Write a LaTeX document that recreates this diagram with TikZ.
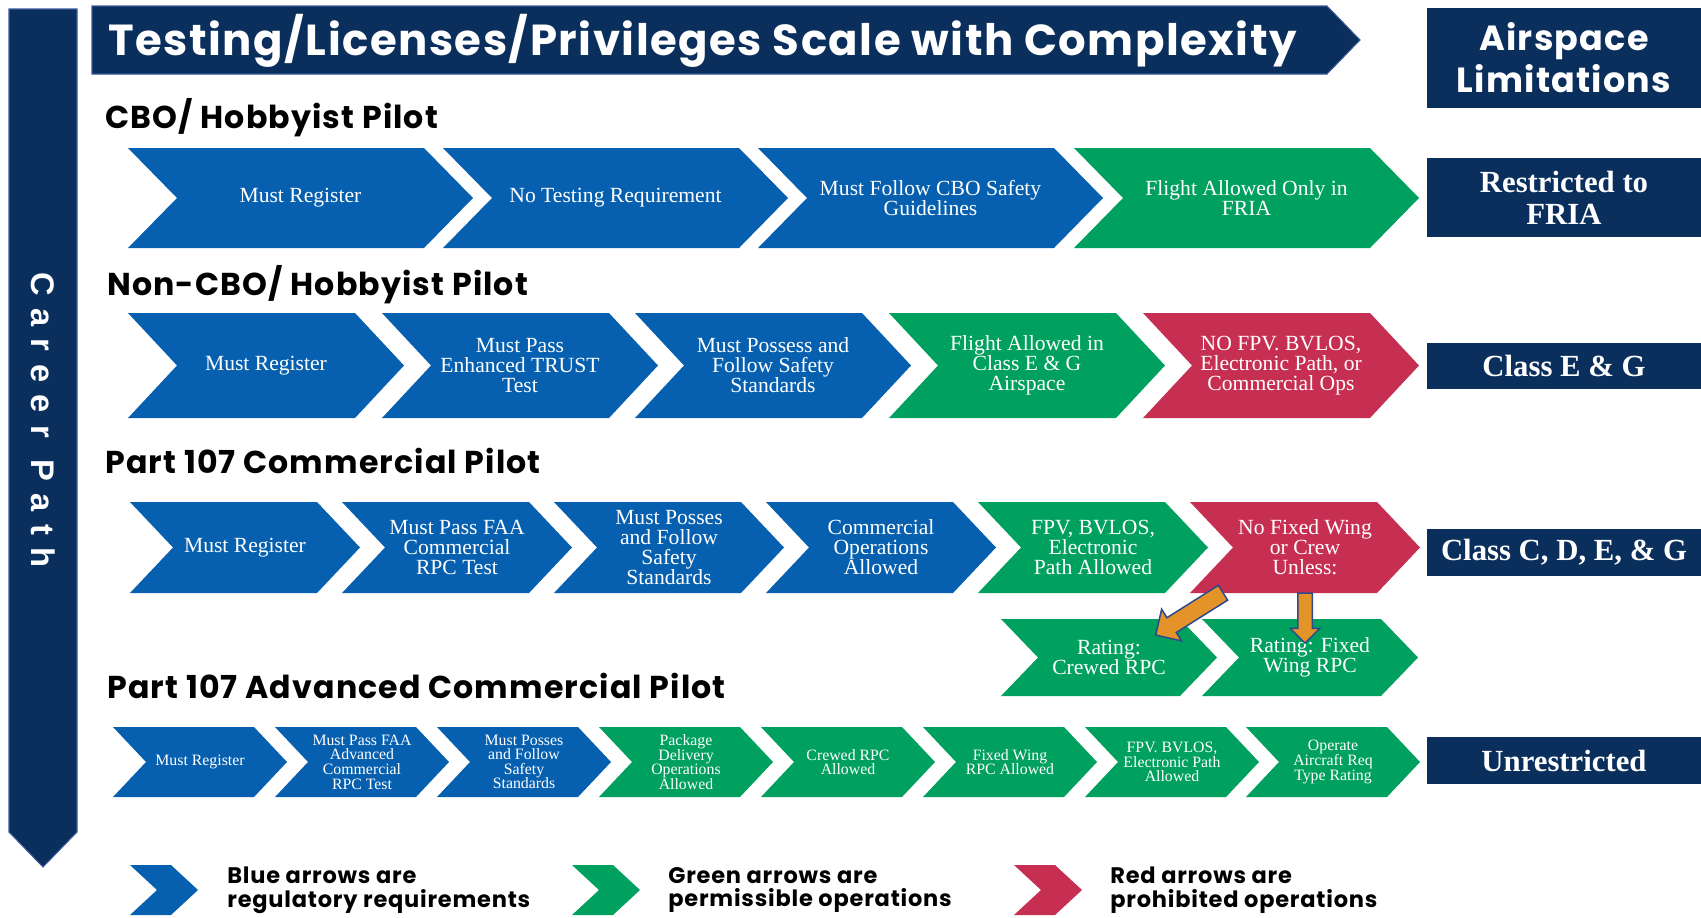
\documentclass[tikz,border=0pt]{standalone}
\usepackage{fontspec}
\setmainfont{Liberation Serif}
\newfontfamily\headfont[LetterSpace=3.5]{Poppins}
\newfontfamily\careerfont[LetterSpace=38]{Liberation Sans}
\usetikzlibrary{calc,shapes.arrows}
\definecolor{navy}{HTML}{0A2F5D}
\definecolor{navyedge}{HTML}{3B5B9B}
\definecolor{regblue}{HTML}{0760AF}
\definecolor{okgreen}{HTML}{00A05E}
\definecolor{nored}{HTML}{C72F52}
\definecolor{ratingorange}{HTML}{E39327}
\definecolor{ratingedge}{HTML}{2D4A8E}

% chevron: name, left x, middle y, body length, half height, point depth, colour, text
\newcommand{\chevron}[8]{
	\fill[#7] (#2,#3-#5) -- ++(#4,0) -- ++(#6,#5) -- ++(-#6,#5) -- ++(-#4,0) -- ++(#6,-#5) -- cycle;
	\node (#1) at ({#2+(#4+#6)/2},#3) [chevtext, minimum width={(#4-#6)*0.02cm}, minimum height={2*#5*0.02cm}] {#8};
}
% block arrow: from, to, head width, shaft width
\newcommand{\ratingarrow}[4]{
	\path let \p1=(#1), \p2=(#2), \n1={atan2(\y2-\y1,\x2-\x1)}, \n2={veclen(\x2-\x1,\y2-\y1)} in
		node at (\p1) [rating, anchor=tail, rotate=\n1, minimum height=\n2, inner ysep={(#4)/2}, single arrow head extend={(#3-#4)/2}] {};
}

\begin{document}
\begin{tikzpicture}[x=0.02cm,y=-0.02cm]
		\tikzstyle{chevtext}=[text=white, align=center, inner sep=0pt, font=\fontsize{12.3}{11.4}\selectfont]
		\tikzstyle{heading}=[anchor=base west, inner sep=0pt, font=\headfont\bfseries\fontsize{18}{20}\selectfont]
		\tikzstyle{limit}=[fill=navy, text=white, align=center, inner sep=0pt, minimum width=5.48cm, font=\bfseries\fontsize{17.5}{18.1}\selectfont]
		\tikzstyle{legend}=[anchor=west, align=left, inner sep=0pt, font=\headfont\bfseries\fontsize{12.8}{13.6}\selectfont]
		\tikzstyle{rating}=[single arrow, fill=ratingorange, draw=ratingedge, line width=0.85pt, inner xsep=0pt, single arrow head indent=0pt]

		\useasboundingbox (0,0) rectangle (1701,917);

		% side bar and banner
		\filldraw[fill=navy, draw=navyedge, line width=0.6pt] (9,9) -- (77,9) -- (77,832) -- (43,867) -- (9,832) -- cycle;
		\node (career) at (43,420) [rotate=-90, text=white, font=\careerfont\bfseries\fontsize{18.6}{20}\selectfont] {Career\ Path};
		\filldraw[fill=navy, draw=navyedge, line width=0.6pt] (92,6) -- (1327,6) -- (1360,40) -- (1327,74) -- (92,74) -- cycle;
		\node (title) at (108,55) [anchor=base west, inner sep=0pt, text=white, font=\headfont\bfseries\fontsize{24.7}{28}\selectfont] {Testing/Licenses/Privileges Scale with Complexity};

		\node (airspace) at (1564,58) [limit, minimum height=2cm, font=\headfont\bfseries\fontsize{19.9}{23.8}\selectfont] {Airspace\\Limitations};
		\node (fria) at (1564,197.5) [limit, minimum height=1.58cm] {Restricted to\\FRIA};
		\node (classeg) at (1564,366) [limit, minimum height=0.92cm] {Class E \& G};
		\node (classcdeg) at (1564,552.5) [limit, minimum height=0.94cm] {Class C, D, E, \& G};
		\node (unrestricted) at (1564,760.5) [limit, minimum height=0.94cm] {Unrestricted};

		% CBO
		\node (cbo) at (105,128) [heading] {CBO/ Hobbyist Pilot};
		\chevron{r1reg}{128}{198}{296}{50}{49}{regblue}{Must Register}
		\chevron{r1test}{443}{198}{296}{50}{49}{regblue}{No Testing Requirement}
		\chevron{r1cbo}{758}{198}{296}{50}{49}{regblue}{Must Follow CBO Safety\\Guidelines}
		\chevron{r1fria}{1074}{198}{296}{50}{49}{okgreen}{Flight Allowed Only in\\FRIA}

		% non-CBO
		\node (noncbo) at (107,295) [heading] {Non-CBO/ Hobbyist Pilot};
		\chevron{r2reg}{128}{365.5}{227}{52.5}{49}{regblue}{Must Register}
		\chevron{r2trust}{382}{365.5}{227}{52.5}{49}{regblue}{Must Pass\\Enhanced TRUST\\Test}
		\chevron{r2safety}{635}{365.5}{227}{52.5}{49}{regblue}{Must Possess and\\Follow Safety\\Standards}
		\chevron{r2classeg}{889}{365.5}{227}{52.5}{49}{okgreen}{Flight Allowed in\\Class E \& G\\Airspace}
		\chevron{r2nofpv}{1143}{365.5}{227}{52.5}{49}{nored}{NO FPV. BVLOS,\\Electronic Path, or\\Commercial Ops}

		% part 107
		\node (commercial) at (105,473) [heading] {Part 107 Commercial Pilot};
		\chevron{r3reg}{130}{547.5}{187}{45.5}{43}{regblue}{Must Register}
		\chevron{r3faa}{342}{547.5}{187}{45.5}{43}{regblue}{Must Pass FAA\\Commercial\\RPC Test}
		\chevron{r3safety}{554}{547.5}{187}{45.5}{43}{regblue}{Must Posses\\and Follow\\Safety\\Standards}
		\chevron{r3ops}{766}{547.5}{187}{45.5}{43}{regblue}{Commercial\\Operations\\Allowed}
		\chevron{r3fpv}{978}{547.5}{187}{45.5}{43}{okgreen}{FPV, BVLOS,\\Electronic\\Path Allowed}
		\chevron{r3nofix}{1190}{547.5}{187}{45.5}{43}{nored}{No Fixed Wing\\or Crew\\Unless:}
		\chevron{crewrpc}{1001}{657.5}{179}{38.5}{37}{okgreen}{Rating:\\Crewed RPC}
		\chevron{fixwing}{1202}{657.5}{179}{38.5}{37}{okgreen}{Rating: Fixed\\Wing RPC}

		\coordinate (crewtip) at ($(crewrpc.north east)+(-24,16)$);
		\coordinate (fixtip) at ($(r3nofix.south)+(0,49)$);
		\ratingarrow{$(r3nofix.south west)+(-9,-1)$}{crewtip}{0.72cm}{0.32cm}
		\ratingarrow{$(r3nofix.south)+(0,-1)$}{fixtip}{0.56cm}{0.26cm}

		% part 107 advanced
		\node (advanced) at (107,698) [heading] {Part 107 Advanced Commercial Pilot};
		\begin{scope}[chevtext/.append style={font=\fontsize{9}{8.3}\selectfont}]
		\chevron{r4reg}{113}{762}{141}{35}{33}{regblue}{Must Register}
		\chevron{r4faa}{275}{762}{141}{35}{33}{regblue}{Must Pass FAA\\Advanced\\Commercial\\RPC Test}
		\chevron{r4safety}{437}{762}{141}{35}{33}{regblue}{Must Posses\\and Follow\\Safety\\Standards}
		\chevron{r4package}{599}{762}{141}{35}{33}{okgreen}{Package\\Delivery\\Operations\\Allowed}
		\chevron{r4crewed}{761}{762}{141}{35}{33}{okgreen}{Crewed RPC\\Allowed}
		\chevron{r4fixed}{923}{762}{141}{35}{33}{okgreen}{Fixed Wing\\RPC Allowed}
		\chevron{r4fpv}{1085}{762}{141}{35}{33}{okgreen}{FPV. BVLOS,\\Electronic Path\\Allowed}
		\chevron{r4type}{1246}{762}{141}{35}{33}{okgreen}{Operate\\Aircraft Req\\Type Rating}
		\end{scope}

		% key
		\chevron{keyblue}{130}{890}{41}{25}{27}{regblue}{}
		\node (bluetext) at (227,890) [legend] {Blue arrows are\\regulatory requirements};
		\chevron{keygreen}{572}{890}{41}{25}{27}{okgreen}{}
		\node (greentext) at (668,890) [legend] {Green arrows are\\permissible operations};
		\chevron{keyred}{1014}{890}{41}{25}{27}{nored}{}
		\node (redtext) at (1110,890) [legend] {Red arrows are\\prohibited operations};
	\end{tikzpicture}
\end{document}
